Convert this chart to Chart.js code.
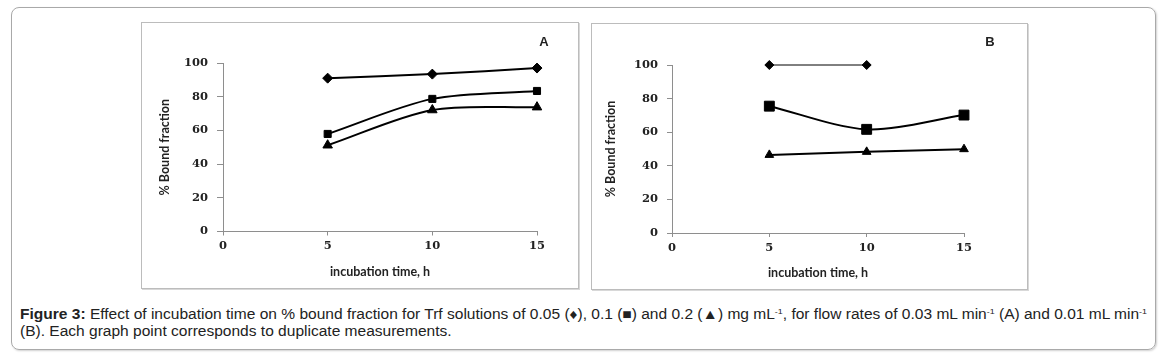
<!DOCTYPE html>
<html>
<head>
<meta charset="utf-8">
<script src="https://cdn.jsdelivr.net/npm/chart.js@4.4.1/dist/chart.umd.min.js"></script>
<style>
  body { margin: 0; background: #fff; width: 1164px; height: 359px; position: relative; overflow: hidden; }
  #moldura { position: absolute; left: 11px; top: 7px; width: 1143px; height: 341px; border: 1px solid #a9a9a9; border-radius: 8px; box-shadow: 1px 1px 2px #d0d0d0; }
  .painel { position: absolute; border: 1px solid #bcbcbc; box-shadow: 1px 1px 0 #d8d8d8; }
  .painel canvas { position: absolute; left: 0; top: 0; }
  #painelA { left: 141px; top: 22px; width: 436px; height: 265px; }
  #painelB { left: 591px; top: 23px; width: 435px; height: 265px; }
  #legenda { position: absolute; left: 20px; top: 306px; font-family: "Liberation Sans", Arial, sans-serif; font-size: 14px; line-height: 17px; color: #222; white-space: nowrap; }
  #legenda .linha { display: block; transform-origin: 0 0; }
  #legenda sup { font-size: 8px; line-height: 0; vertical-align: 5px; }
</style>
</head>
<body>
<div id="moldura"></div>
<div class="painel" id="painelA"><canvas id="graficoA" width="436" height="265"></canvas></div>
<div class="painel" id="painelB"><canvas id="graficoB" width="435" height="265"></canvas></div>
<div id="legenda">
  <span class="linha" id="linha1"><b>Figure 3:</b> Effect of incubation time on % bound fraction for Trf solutions of 0.05 (&#9830;), 0.1 (&#9632;) and 0.2 (&#9650;) mg mL<sup>-1</sup>, for flow rates of 0.03 mL min<sup>-1</sup> (A) and 0.01 mL min<sup>-1</sup></span>
  <span class="linha" id="linha2">(B). Each graph point corresponds to duplicate measurements.</span>
</div>
<script>
// dados
const tempos = [5, 10, 15];
const ticksX = [0, 5, 10, 15];
const ticksY = [0, 20, 40, 60, 80, 100];

const fracaoA_005 = [91, 93.4, 97];
const fracaoA_01 = [57.9, 78.7, 83.4];
const fracaoA_02 = [51.2, 72.1, 73.8];

const fracaoB_005 = [100, 100, null];
const fracaoB_01 = [75.5, 61.7, 70.2];
const fracaoB_02 = [46.5, 48.3, 49.9];

const corEixo = '#8e8e8e';
const fonteNumeros = { family: '"DejaVu Serif", serif', size: 11.5, weight: 'bold' };
const fonteTitulo = { family: 'Lato, "Open Sans", sans-serif', size: 12.5, weight: 'bold' };

function pontos(valores) {
    return tempos.map((t, i) => ({ x: t, y: valores[i] }));
}

function serie(valores, estilo, raio, largura, tensao) {
    return {
        data: pontos(valores),
        borderColor: '#000',
        backgroundColor: '#000',
        borderWidth: largura,
        pointStyle: estilo,
        pointRadius: raio,
        pointBorderWidth: 1,
        tension: tensao,
        spanGaps: false,
        clip: false,
    };
}

const letraPainel = {
    id: 'letraPainel',
    afterDraw(chart, args, opts) {
        const ctx = chart.ctx;
        ctx.save();
        ctx.font = 'bold 13px "Liberation Sans", Arial, sans-serif';
        ctx.fillStyle = '#222';
        ctx.textAlign = 'center';
        ctx.textBaseline = 'middle';
        ctx.fillText(opts.texto, opts.x, opts.y);
        ctx.restore();
    }
};

function criarGrafico(idCanvas, series, cfg) {
    const contexto = document.getElementById(idCanvas).getContext('2d');
    return new Chart(contexto, {
        type: 'line',
        data: { datasets: series },
        plugins: [letraPainel],
        options: {
            responsive: false,
            animation: false,
            devicePixelRatio: 1,
            layout: { padding: cfg.padding },
            plugins: {
                legend: { display: false },
                tooltip: { enabled: false },
                letraPainel: { texto: cfg.letra, x: cfg.letraX, y: cfg.letraY },
            },
            scales: {
                x: {
                    type: 'linear',
                    min: 0,
                    max: 15,
                    afterBuildTicks: (eixo) => { eixo.ticks = ticksX.map(v => ({ value: v })); },
                    afterFit: (eixo) => { eixo.height = cfg.alturaX; },
                    grid: { drawOnChartArea: false, drawTicks: true, tickLength: 4, color: corEixo },
                    border: { color: corEixo, width: 1 },
                    ticks: { font: fonteNumeros, color: '#222', padding: 4, maxRotation: 0 },
                    title: { display: true, text: 'incubation time, h', font: fonteTitulo, color: '#222', padding: 0 },
                },
                y: {
                    min: 0,
                    max: 100,
                    afterBuildTicks: (eixo) => { eixo.ticks = ticksY.map(v => ({ value: v })); },
                    afterFit: (eixo) => { eixo.width = cfg.larguraY; },
                    grid: { drawOnChartArea: false, drawTicks: true, tickLength: cfg.tickY, color: corEixo },
                    border: { color: corEixo, width: 1 },
                    ticks: { font: fonteNumeros, color: '#222', padding: cfg.padTickY },
                    title: { display: true, text: '% Bound fraction', font: fonteTitulo, color: '#222', padding: 0 },
                },
            },
        },
    });
}

criarGrafico('graficoA', [
    serie(fracaoA_005, 'rectRot', 5, 2, 0.3),
    serie(fracaoA_01, 'rect', 5, 2, 0.3),
    serie(fracaoA_02, 'triangle', 5.5, 2, 0.3),
], {
    padding: { left: 15, right: 41, top: 40, bottom: 9 },
    larguraY: 66,
    alturaX: 47.5,
    tickY: 6,
    padTickY: 9,
    letra: 'A', letraX: 402, letraY: 19,
});

criarGrafico('graficoB', [
    serie(fracaoB_005, 'rectRot', 4.5, 1, 0),
    serie(fracaoB_01, 'rect', 7, 2, 0.3),
    serie(fracaoB_02, 'triangle', 5, 2, 0),
], {
    padding: { left: 11, right: 63, top: 41, bottom: 9 },
    larguraY: 69,
    alturaX: 47,
    tickY: 5,
    padTickY: 9,
    letra: 'B', letraX: 398, letraY: 18,
});

// ajusta a largura da legenda ao original
const linha1 = document.getElementById('linha1');
const linha2 = document.getElementById('linha2');
const escala = 1127 / linha1.getBoundingClientRect().width;
linha1.style.transform = `scaleX(${escala})`;
linha2.style.transform = `scaleX(${escala})`;
</script>
</body>
</html>
